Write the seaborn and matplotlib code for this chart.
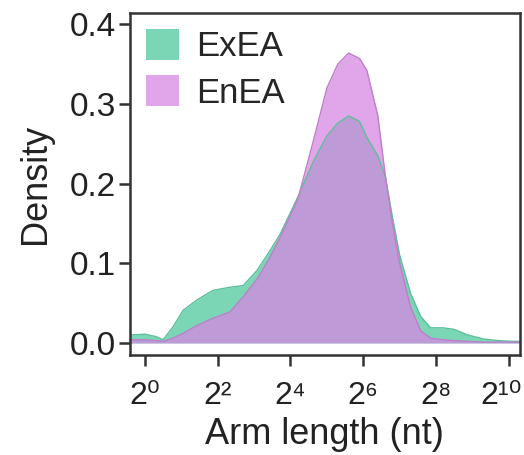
import matplotlib
matplotlib.use('Agg')
import matplotlib.pyplot as plt
import matplotlib.transforms as mtransforms
from matplotlib.patches import Patch
import seaborn as sns
import numpy as np
import pandas as pd

# log2(arm length) grid
log2_len = [-0.4, 0.0, 0.3, 0.5, 0.77, 1.05, 1.43, 1.87, 2.34, 2.7, 3.08, 3.44,
            3.72, 4.2, 4.63, 5.0, 5.3, 5.6, 5.9, 6.1, 6.4, 6.6, 6.8, 7.0, 7.3,
            7.58, 7.85, 8.2, 8.5, 8.87, 9.3, 9.7, 10.1, 10.3]

exea = [0.010, 0.011, 0.008, 0.004, 0.020, 0.041, 0.054, 0.066, 0.070, 0.072,
        0.091, 0.116, 0.137, 0.183, 0.228, 0.260, 0.276, 0.285, 0.278, 0.258,
        0.235, 0.210, 0.158, 0.110, 0.062, 0.033, 0.019, 0.019, 0.017, 0.010,
        0.005, 0.003, 0.002, 0.002]

enea = [0.004, 0.004, 0.003, 0.002, 0.006, 0.012, 0.022, 0.031, 0.039, 0.058,
        0.080, 0.108, 0.133, 0.180, 0.254, 0.320, 0.350, 0.364, 0.357, 0.342,
        0.285, 0.212, 0.150, 0.100, 0.045, 0.015, 0.006, 0.004, 0.003, 0.002,
        0.001, 0.001, 0.001, 0.001]

x_exp = [0, 2, 4, 6, 8, 10]
x_ticklabels = ['2⁰', '2²', '2⁴', '2⁶', '2⁸', '2¹⁰']
y_ticks = [0.0, 0.1, 0.2, 0.3, 0.4]

groups = ['ExEA', 'EnEA']
colors = {'ExEA': '#6dd2ad', 'EnEA': '#d688e2'}
alphas = {'ExEA': 0.9, 'EnEA': 0.75}


def main():
	sns.set_theme(style='ticks')
	plt.rcParams['font.family'] = ['Liberation Sans', 'DejaVu Sans']

	arm_len = 2.0 ** np.array(log2_len)
	df = pd.DataFrame({
		'arm_len': np.concatenate([arm_len, arm_len]),
		'density': exea + enea,
		'group': ['ExEA'] * len(exea) + ['EnEA'] * len(enea),
	})

	fig = plt.figure(figsize=(5.24, 4.55), dpi=100)
	ax = fig.add_axes([0.248, 0.22, 0.744, 0.751])

	for g in groups:
		sub = df[df['group'] == g]
		ax.fill_between(sub['arm_len'], 0, sub['density'], color=colors[g],
						alpha=alphas[g], lw=0)
	sns.lineplot(data=df, x='arm_len', y='density', hue='group',
				 palette={'ExEA': '#5bbf9c', 'EnEA': '#c07ccb'},
				 legend=False, lw=1, ax=ax)

	ax.set_xscale('log', base=2)
	ax.set_xlim(2 ** -0.41, 2 ** 10.3)
	ax.set_ylim(-0.015, 0.414)
	ax.set_xticks([2.0 ** k for k in x_exp])
	ax.set_xticklabels(x_ticklabels)
	ax.set_yticks(y_ticks)
	ax.set_yticklabels([f'{v:.1f}' for v in y_ticks])
	ax.minorticks_off()

	for s in ax.spines.values():
		s.set_color('#333333')
		s.set_linewidth(1.8)
	ax.tick_params(axis='both', direction='out', length=8, width=1.8,
				   color='#333333', labelsize=24, labelcolor='#222222', pad=2)
	ax.tick_params(axis='x', pad=11, labelsize=23)

	# last label sits against the right edge, nudge it in a bit
	last = ax.get_xticklabels()[-1]
	last.set_transform(last.get_transform() +
					   mtransforms.ScaledTranslation(-8 / 100, 0, fig.dpi_scale_trans))

	ax.set_xlabel('Arm length (nt)', fontsize=26, color='#222222', labelpad=4)
	ax.set_ylabel('Density', fontsize=26, color='#222222', labelpad=12)

	handles = [Patch(facecolor=colors[g], alpha=alphas[g], edgecolor='none') for g in groups]
	ax.legend(handles, groups, loc='upper left', frameon=False, fontsize=25,
			  handlelength=0.95, handleheight=1.0, handletextpad=0.5,
			  borderaxespad=0.05, borderpad=0.4, labelspacing=0.35)

	fig.savefig('out.png', dpi=100)


if __name__ == '__main__':
	main()
